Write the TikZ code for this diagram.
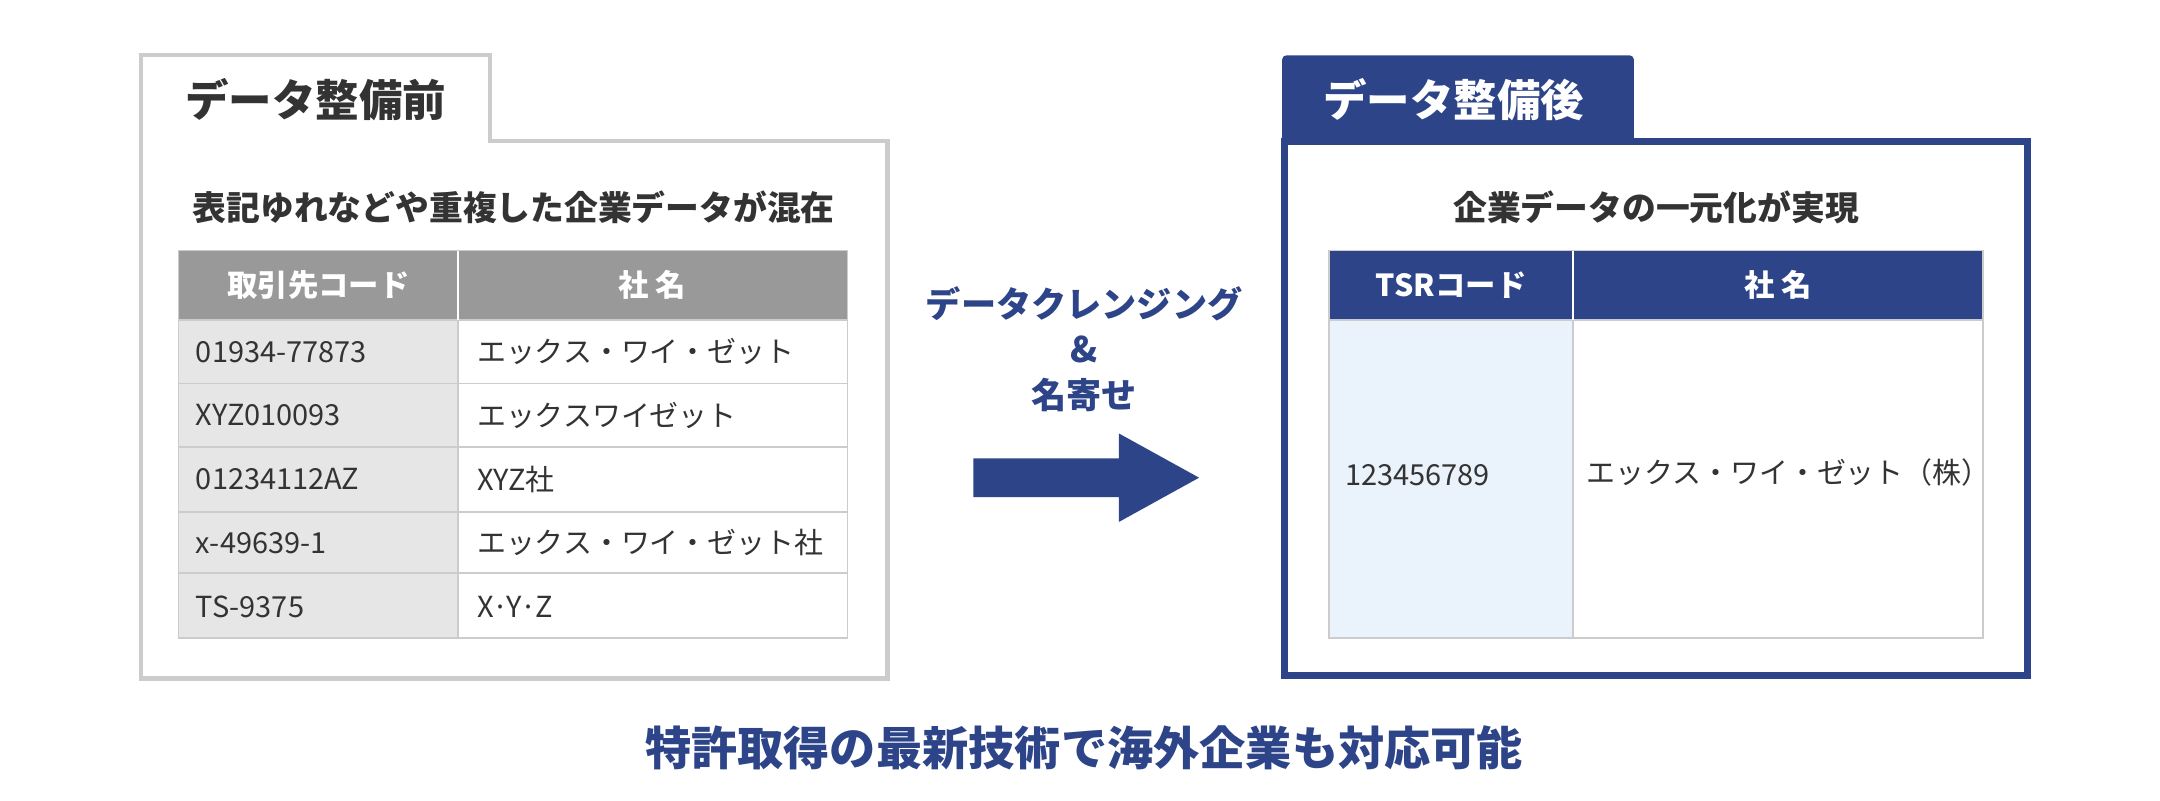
\documentclass[tikz,border=0pt]{standalone}
\usepackage{fontspec}
\setmainfont{Noto Sans CJK JP}
\usetikzlibrary{positioning}
\definecolor{navy}{HTML}{2D4488}
\definecolor{frame}{HTML}{CCCCCC}
\definecolor{headgray}{HTML}{999999}
\definecolor{cellgray}{HTML}{E6E6E6}
\definecolor{cellblue}{HTML}{EAF2FC}
\definecolor{ink}{HTML}{333333}
\tikzset{
  cell/.style={draw=frame, line width=1.2bp},
  celltext/.style={anchor=west, font=\fontsize{21}{21}\selectfont, text=ink},
  headtext/.style={font=\bfseries\fontsize{22}{22}\selectfont, text=white},
  titletext/.style={font=\bfseries\fontsize{31.5}{31.5}\selectfont},
  subtext/.style={font=\bfseries\fontsize{24.5}{24.5}\selectfont, text=ink}
}
\begin{document}
\begin{tikzpicture}[x=1bp,y=-1bp]
  \useasboundingbox (0,0) rectangle (1560,578);
  % before
  \draw[frame, line width=3bp, fill=white] (102,102) -- (102,40) -- (354,40) -- (354,102) -- (641,102) -- (641,490) -- (102,490) -- cycle;
  \node[titletext, text=ink] (before) at (228,72) {データ整備前};
  \node[subtext] (beforesub) at (371,150) {表記ゆれなどや重複した企業データが混在};
  \fill[headgray] (129,181) rectangle (612,231);
  \fill[cellgray] (129,231) rectangle (331,461);
  \foreach \ya/\yb in {231/277,277/323,323/370,370/414,414/461}{
    \draw[cell] (129,\ya) rectangle (331,\yb);
    \draw[cell] (331,\ya) rectangle (612,\yb);
  }
  \draw[cell] (129,181) rectangle (612,461);
  \draw[white, line width=1.2bp] (331,181) -- (331,231);
  \node[headtext] (hcode) at (230,206) {取引先コード};
  \node[headtext] (hname) at (471,206) {社 名};
  \foreach \y/\code/\name in {254/01934-77873/エックス・ワイ・ゼット, 300/XYZ010093/エックスワイゼット, 346/01234112AZ/XYZ社, 392/x-49639-1/エックス・ワイ・ゼット社, 438/TS-9375/X·Y·Z}{
    \node[celltext] at (138,\y) {\code};
    \node[celltext] at (341,\y) {\name};
  }
  % arrow
  \node[font=\bfseries\fontsize{25.5}{33}\selectfont, text=navy, align=center] (clean) at (783,252) {データクレンジング\\\&\\名寄せ};
  \fill[navy] (703,331) -- (808,331) -- (808,313) -- (866,345) -- (808,377) -- (808,359) -- (703,359) -- cycle;
  % after
  \draw[navy, line width=5bp, fill=white] (928,102) rectangle (1464,488);
  \fill[navy, rounded corners=3bp] (926,40) rectangle (1180,104);
  \node[titletext, text=white] (after) at (1050,72) {データ整備後};
  \node[subtext] (aftersub) at (1196,150) {企業データの一元化が実現};
  \fill[navy] (960,181) rectangle (1432,231);
  \fill[cellblue] (960,231) rectangle (1136,461);
  \draw[cell] (960,231) rectangle (1136,461);
  \draw[cell] (1136,231) rectangle (1432,461);
  \draw[cell] (960,181) rectangle (1432,461);
  \draw[white, line width=1.2bp] (1136,181) -- (1136,231);
  \node[headtext] (htsr) at (1048,206) {TSRコード};
  \node[headtext] (hname2) at (1284,206) {社 名};
  \node[celltext] (tsr) at (968,343) {123456789};
  \node[celltext] (xyz) at (1142,341) {エックス・ワイ・ゼット（株）};
  % footer
  \node[font=\bfseries\fontsize{33.5}{33.5}\selectfont, text=navy] (claim) at (783,540) {特許取得の最新技術で海外企業も対応可能};
\end{tikzpicture}
\end{document}
